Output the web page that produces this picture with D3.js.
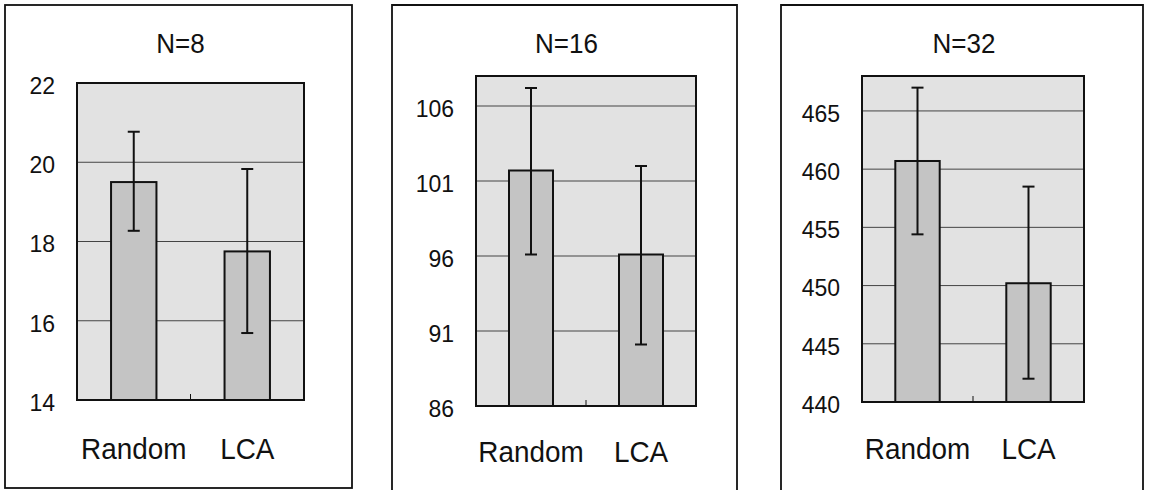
<!DOCTYPE html>
<html>
<head>
<meta charset="utf-8">
<script src="https://cdn.jsdelivr.net/npm/d3@7"></script>
<style>
  html, body { margin: 0; padding: 0; background: #fff; }
  svg { display: block; }
  text { font-family: "Liberation Sans", Arial, sans-serif; fill: #111; }
</style>
</head>
<body>
<svg id="chart" width="1152" height="490"></svg>
<script>
// data
const titles = ["N=8", "N=16", "N=32"];
const categories = ["Random", "LCA"];

const meanN8 = [19.5, 17.75];
const lowN8 = [18.27, 15.69];
const highN8 = [20.77, 19.83];
const ticksN8 = [14, 16, 18, 20, 22];

const meanN16 = [101.7, 96.1];
const lowN16 = [96.1, 90.1];
const highN16 = [107.2, 102.0];
const ticksN16 = [86, 91, 96, 101, 106];

const meanN32 = [460.7, 450.2];
const lowN32 = [454.4, 442.0];
const highN32 = [467.0, 458.5];
const ticksN32 = [440, 445, 450, 455, 460, 465];

// panel layout (frame + plot area), pixels
const layout = [
  { frame: [5, 5, 352, 488], plot: [77, 83, 304, 400], yMax: 22, labelY: 459, closed: true },
  { frame: [392, 5, 737, 500], plot: [476, 76, 696, 406], yMax: 108, labelY: 462, closed: false },
  { frame: [781, 5, 1143, 500], plot: [862, 76, 1084, 402], yMax: 468, labelY: 459, closed: false }
];

const series = [
  { mean: meanN8, low: lowN8, high: highN8, ticks: ticksN8 },
  { mean: meanN16, low: lowN16, high: highN16, ticks: ticksN16 },
  { mean: meanN32, low: lowN32, high: highN32, ticks: ticksN32 }
];

const svg = d3.select("#chart");

series.forEach((s, i) => {
  const L = layout[i];
  const [fx0, fy0, fx1, fy1] = L.frame;
  const [px0, py0, px1, py1] = L.plot;
  const g = svg.append("g");

  // outer frame
  if (L.closed) {
    g.append("rect")
      .attr("x", fx0).attr("y", fy0)
      .attr("width", fx1 - fx0).attr("height", fy1 - fy0)
      .attr("fill", "none").attr("stroke", "#111").attr("stroke-width", 1.8);
  } else {
    g.append("path")
      .attr("d", `M${fx0},${fy1}V${fy0}H${fx1}V${fy1}`)
      .attr("fill", "none").attr("stroke", "#111").attr("stroke-width", 1.8);
  }

  const x = d3.scalePoint().domain(categories).range([px0, px1]).padding(0.5);
  const y = d3.scaleLinear().domain([s.ticks[0], L.yMax]).range([py1, py0]);
  const barW = x.step() * 0.4;

  // plot background
  g.append("rect")
    .attr("x", px0).attr("y", py0)
    .attr("width", px1 - px0).attr("height", py1 - py0)
    .attr("fill", "#e2e2e2");

  // gridlines
  g.append("g")
    .selectAll("line")
    .data(s.ticks.slice(1))
    .join("line")
    .attr("x1", px0).attr("x2", px1)
    .attr("y1", d => y(d)).attr("y2", d => y(d))
    .attr("stroke", "#444").attr("stroke-width", 1);

  // bars
  g.append("g")
    .selectAll("rect")
    .data(categories)
    .join("rect")
    .attr("x", d => x(d) - barW / 2)
    .attr("y", (d, j) => y(s.mean[j]))
    .attr("width", barW)
    .attr("height", (d, j) => y(s.ticks[0]) - y(s.mean[j]))
    .attr("fill", "#c4c4c4")
    .attr("stroke", "#111").attr("stroke-width", 2);

  // plot border
  g.append("rect")
    .attr("x", px0).attr("y", py0)
    .attr("width", px1 - px0).attr("height", py1 - py0)
    .attr("fill", "none").attr("stroke", "#111").attr("stroke-width", 2);

  // small tick between categories
  g.append("line")
    .attr("x1", (px0 + px1) / 2).attr("x2", (px0 + px1) / 2)
    .attr("y1", py1).attr("y2", py1 - 6)
    .attr("stroke", "#111").attr("stroke-width", 1);

  // error bars
  const eb = g.append("g").selectAll("g").data(categories).join("g");
  eb.append("line")
    .attr("x1", d => x(d)).attr("x2", d => x(d))
    .attr("y1", (d, j) => y(s.high[j])).attr("y2", (d, j) => y(s.low[j]))
    .attr("stroke", "#111").attr("stroke-width", 2);
  [s.high, s.low].forEach(arr => {
    eb.append("line")
      .attr("x1", d => x(d) - 6).attr("x2", d => x(d) + 6)
      .attr("y1", (d, j) => y(arr[j])).attr("y2", (d, j) => y(arr[j]))
      .attr("stroke", "#111").attr("stroke-width", 2);
  });

  // y axis labels
  const yAxis = g.append("g")
    .attr("transform", `translate(${px0},0)`)
    .call(d3.axisLeft(y).tickValues(s.ticks).tickSize(0).tickPadding(22));
  yAxis.select(".domain").remove();
  yAxis.selectAll("text")
    .attr("font-size", 23)
    .attr("font-family", "Liberation Sans, Arial, sans-serif")
    .attr("fill", "#111")
    .attr("dy", "0.45em");

  // category labels (slightly condensed, like the original face)
  g.append("g")
    .selectAll("text")
    .data(categories)
    .join("text")
    .attr("transform", d => `translate(${x(d)},${L.labelY}) scale(0.93,1)`)
    .attr("text-anchor", "middle")
    .attr("font-size", 30)
    .text(d => d);

  // title
  g.append("text")
    .attr("transform", `translate(${(fx0 + fx1) / 2 + 2},53) scale(0.93,1)`)
    .attr("text-anchor", "middle")
    .attr("font-size", 28)
    .text(titles[i]);
});
</script>
</body>
</html>
